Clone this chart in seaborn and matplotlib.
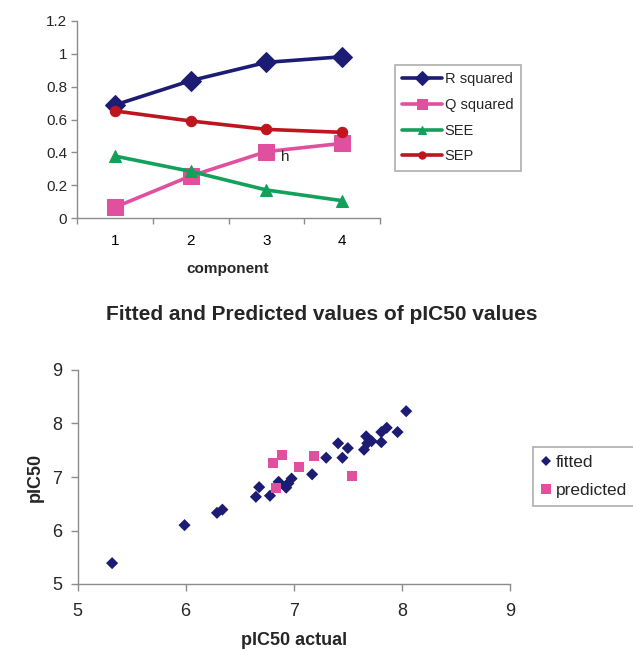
import numpy as np
import pandas as pd
import matplotlib
matplotlib.use("Agg")
import matplotlib.pyplot as plt
import seaborn as sns

# ---------------- data ----------------
components = [1, 2, 3, 4]
r_squared = [0.688, 0.836, 0.947, 0.981]
q_squared = [0.067, 0.257, 0.405, 0.455]
see_vals = [0.378, 0.285, 0.172, 0.107]
sep_vals = [0.652, 0.591, 0.540, 0.522]
series_names = ["R squared", "Q squared", "SEE", "SEP"]

fitted_actual = [5.32, 5.99, 6.29, 6.34, 6.65, 6.68, 6.78, 6.86, 6.93, 6.95, 6.98, 6.93,
                 7.17, 7.30, 7.41, 7.45, 7.50, 7.65, 7.67, 7.68, 7.70, 7.72, 7.81, 7.81,
                 7.86, 7.96, 8.04]
fitted_pred = [5.39, 6.10, 6.33, 6.39, 6.63, 6.81, 6.65, 6.91, 6.84, 6.88, 6.97, 6.80,
               7.05, 7.36, 7.63, 7.36, 7.54, 7.51, 7.76, 7.63, 7.69, 7.67, 7.65, 7.84,
               7.92, 7.84, 8.23]
pred_actual = [6.81, 6.89, 7.05, 7.19, 7.54, 6.84]
pred_pred = [7.27, 7.42, 7.18, 7.39, 7.02, 6.79]

x_ticks_top = [1, 2, 3, 4]
y_ticks_top = [0, 0.2, 0.4, 0.6, 0.8, 1.0, 1.2]
y_ticklabels_top = ["0", "0.2", "0.4", "0.6", "0.8", "1", "1.2"]
ticks_bottom = [5, 6, 7, 8, 9]

# ---------------- style ----------------
sns.set_theme(style="white")
plt.rcParams["font.family"] = ["Liberation Sans", "DejaVu Sans"]

navy = "#1c1c74"
pink = "#e0509e"
green = "#12a05a"
red = "#c0141e"
spine_c = "#8c8c8c"

W, H = 633, 650
fig = plt.figure(figsize=(W / 100, H / 100), dpi=100)

def fx(px):
    return px / W

def fy(py):
    return 1 - py / H

# ---------------- top chart ----------------
ax1 = fig.add_axes([fx(77), fy(218.3), fx(380) - fx(77), fy(20.7) - fy(218.3)])

long = pd.DataFrame({
    "component": components * 4,
    "value": r_squared + q_squared + see_vals + sep_vals,
    "series": sum([[n] * 4 for n in series_names], []),
})
palette = dict(zip(series_names, [navy, pink, green, red]))
markers = dict(zip(series_names, ["D", "s", "^", "o"]))
sizes_mk = dict(zip(series_names, [10, 11, 8, 7.5]))

for name in series_names:
    sub = long[long["series"] == name]
    sns.lineplot(data=sub, x="component", y="value", ax=ax1, color=palette[name],
                 marker=markers[name], markersize=sizes_mk[name], markeredgecolor=palette[name],
                 linewidth=2.6, label=name)

ax1.set_xlim(0.5, 4.5)
ax1.set_ylim(0, 1.2)
ax1.set_xticks(x_ticks_top)
ax1.set_xticklabels([str(c) for c in x_ticks_top], fontsize=11)
ax1.set_xticks([0.5, 1.5, 2.5, 3.5, 4.5], minor=True)
ax1.set_yticks(y_ticks_top)
ax1.set_yticklabels(y_ticklabels_top, fontsize=11)
ax1.tick_params(axis="x", which="major", length=0, pad=11, colors="black")
ax1.tick_params(axis="x", which="minor", length=4, width=1, color=spine_c, direction="out")
ax1.tick_params(axis="y", which="major", length=4, width=1, color=spine_c, direction="out", pad=3)
ax1.tick_params(bottom=True, left=True, which="both")
for s in ["top", "right"]:
    ax1.spines[s].set_visible(False)
for s in ["left", "bottom"]:
    ax1.spines[s].set_color(spine_c)
    ax1.spines[s].set_linewidth(1)
ax1.set_xlabel("component", fontsize=11, fontweight="bold")
ax1.xaxis.set_label_coords(0.498, -0.221)
ax1.set_ylabel("")
ax1.text(3.25, 0.372, "h", fontsize=11, ha="center", va="center")

h1, l1 = ax1.get_legend_handles_labels()
leg1 = ax1.legend(h1, l1, loc="upper left", bbox_to_anchor=(fx(395), fy(65)),
                  bbox_transform=fig.transFigure, borderaxespad=0, fontsize=10.5,
                  frameon=True, fancybox=False, edgecolor="#999999", handlelength=2.7,
                  handletextpad=0.2, labelspacing=0.8, borderpad=0.5, markerscale=0.7)
leg1.get_frame().set_linewidth(1.2)

# ---------------- title ----------------
fig.text(fx(322), fy(314), "Fitted and Predicted values of pIC50 values", ha="center",
         va="center", fontsize=15, fontweight="bold")

# ---------------- bottom chart ----------------
ax2 = fig.add_axes([fx(77.5), fy(584), fx(510) - fx(77.5), fy(370) - fy(584)])
sc = pd.DataFrame({
    "actual": fitted_actual + pred_actual,
    "pred": fitted_pred + pred_pred,
    "kind": ["fitted"] * len(fitted_actual) + ["predicted"] * len(pred_actual),
})
sns.scatterplot(data=sc, x="actual", y="pred", hue="kind", style="kind",
                palette={"fitted": navy, "predicted": pink},
                markers={"fitted": "D", "predicted": "s"},
                size="kind", sizes={"fitted": 38, "predicted": 52}, linewidth=0,
                ax=ax2)
ax2.set_xlim(5, 9)
ax2.set_ylim(5, 9)
ax2.set_xticks(ticks_bottom)
ax2.set_yticks(ticks_bottom)
ax2.set_xticklabels([str(t) for t in ticks_bottom], fontsize=13)
ax2.set_yticklabels([str(t) for t in ticks_bottom], fontsize=13)
ax2.tick_params(axis="x", length=5, width=1, color=spine_c, direction="out", pad=9, bottom=True)
ax2.tick_params(axis="y", length=5, width=1, color=spine_c, direction="out", pad=6, left=True)
for s in ["top", "right"]:
    ax2.spines[s].set_visible(False)
for s in ["left", "bottom"]:
    ax2.spines[s].set_color(spine_c)
    ax2.spines[s].set_linewidth(1)
ax2.set_xlabel("pIC50 actual", fontsize=13, fontweight="bold")
ax2.xaxis.set_label_coords(0.5, -0.222)
ax2.set_ylabel("pIC50", fontsize=13, fontweight="bold")
ax2.yaxis.set_label_coords(-0.079, 0.5)

h2, l2 = ax2.get_legend_handles_labels()
leg2 = ax2.legend(h2, l2, loc="upper left", bbox_to_anchor=(fx(532.7), fy(447.3)),
                  bbox_transform=fig.transFigure, borderaxespad=0, fontsize=12.5,
                  frameon=True, fancybox=False, edgecolor="#999999", handlelength=0.6,
                  handletextpad=0.3, labelspacing=0.75, borderpad=0.45, markerscale=0.9)
leg2.get_frame().set_linewidth(1.2)

fig.savefig("out.png", dpi=100)
